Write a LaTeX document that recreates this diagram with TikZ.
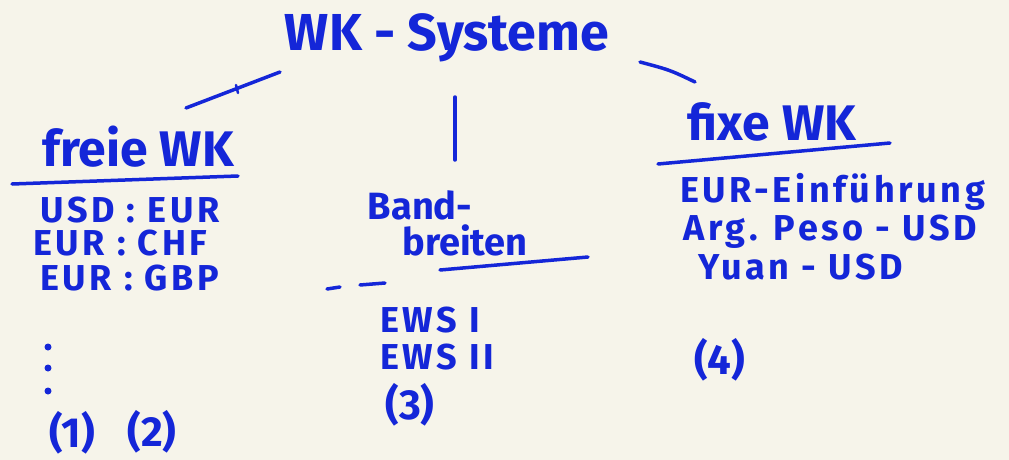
\documentclass[tikz,border=0pt]{standalone}
\usepackage{fontspec}
\setmainfont{Fira Sans}
\newfontfamily\itemfont[LetterSpace=10]{Fira Sans}
\definecolor{paper}{HTML}{F6F4EA}
\definecolor{ink}{HTML}{1426D8}
\begin{document}
\begin{tikzpicture}[x=1pt,y=-1pt,
  every node/.style={text=ink,font=\bfseries,inner sep=0pt},
  title/.style={font=\bfseries\fontsize{52}{56}\selectfont},
  head/.style={font=\bfseries\fontsize{50}{54}\selectfont},
  band/.style={font=\bfseries\fontsize{38}{42}\selectfont},
  item/.style={font=\itemfont\bfseries\fontsize{36}{40}\selectfont},
  num/.style={font=\bfseries\fontsize{42}{46}\selectfont},
  stroke/.style={draw=ink,line width=3.5pt,line cap=round}]
\fill[paper] (0,0) rectangle (1009,460);
\useasboundingbox (0,0) rectangle (1009,460);
% title
\node[title] (t) at (447,38) {WK - Systeme};
% headers
\node[head] (h1) at (138,147) {freie WK};
\node[band] (h2a) at (420,205) {Band-};
\node[band] (h2b) at (465,240) {breiten};
\node[head] (h3) at (772,122) {fixe WK};
% connectors
\coordinate (c1a) at (280,72);
\coordinate (c1b) at (186,108);
\coordinate (c2a) at (455,97);
\coordinate (c2b) at (455,160);
\coordinate (c3a) at (640,62);
\coordinate (c3b) at (695,82);
\draw[stroke] (c1a) -- (c1b);
\draw[stroke,line width=2.5pt] (236,85) -- (238,93);
\draw[stroke] (c2a) -- (c2b);
\draw[stroke] (c3a) .. controls (670,70) .. (c3b);
% underlines
\draw[stroke] (12,184) -- (238,176);
\draw[stroke] (440,270) -- (588,257);
\draw[stroke] (327,289) -- (340,287);
\draw[stroke] (360,285) -- (385,283);
\draw[stroke] (658,164) -- (890,143);
% left column
\node[item,anchor=west] (l1) at (40,210) {USD : EUR};
\node[item,anchor=west] (l2) at (33,243) {EUR : CHF};
\node[item,anchor=west] (l3) at (40,278) {EUR : GBP};
\fill[ink] (48,347) circle (3.5) (48,368) circle (3.5) (48,391) circle (3.5);
\node[num] (n1) at (72,433) {(1)};
\node[num] (n2) at (152,432) {(2)};
% middle column
\node[item,anchor=west] (m1) at (380,320) {EWS I};
\node[item,anchor=west] (m2) at (380,357) {EWS II};
\node[num] (n3) at (410,405) {(3)};
% right column
\node[item,anchor=west] (r1) at (680,192) {EUR-Einführung};
\node[item,anchor=west] (r2) at (683,232) {Arg. Peso - USD};
\node[item,anchor=west] (r3) at (698,267) {Yuan - USD};
\node[num] (n4) at (720,360) {(4)};
\end{tikzpicture}
\end{document}
